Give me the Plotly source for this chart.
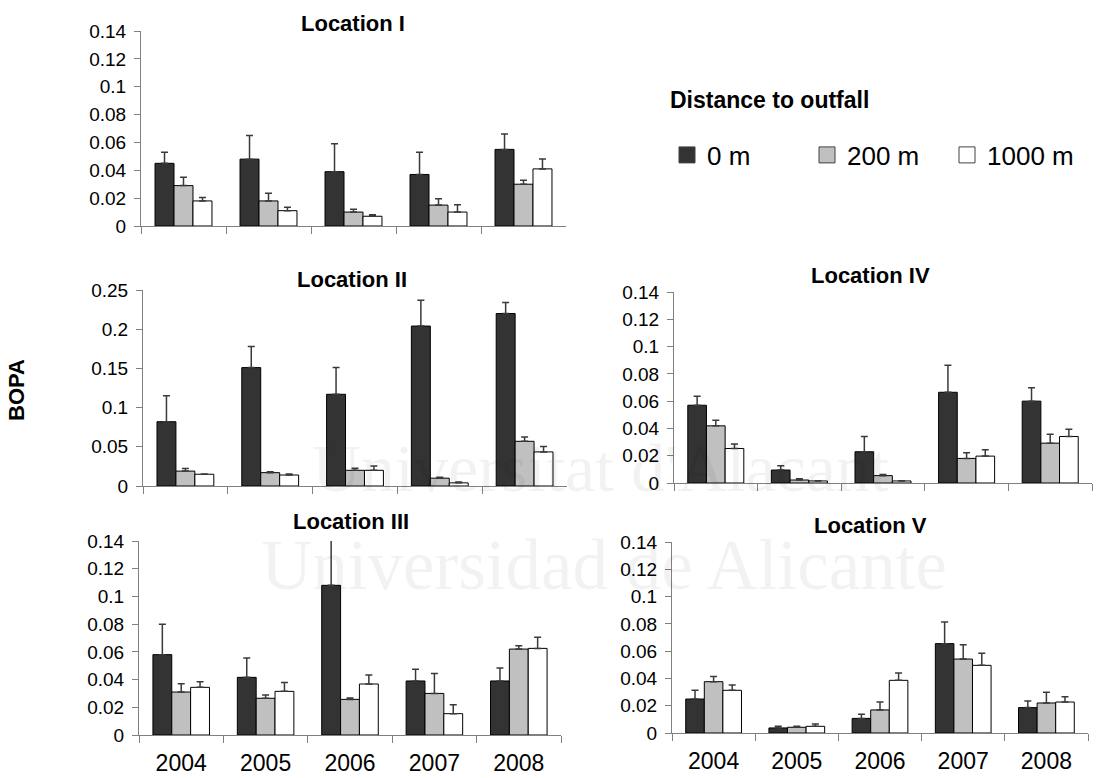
import plotly.graph_objects as go

W, H = 1105, 778

years = ["2004", "2005", "2006", "2007", "2008"]
distances = ["0 m", "200 m", "1000 m"]
bar_colors = ["#333333", "#c0c0c0", "#ffffff"]

# Location I
loc1_0m = [0.045, 0.048, 0.039, 0.037, 0.055]
loc1_0m_err = [0.008, 0.017, 0.020, 0.016, 0.011]
loc1_200m = [0.029, 0.018, 0.010, 0.015, 0.030]
loc1_200m_err = [0.006, 0.0055, 0.002, 0.0046, 0.0028]
loc1_1000m = [0.018, 0.011, 0.007, 0.010, 0.041]
loc1_1000m_err = [0.0025, 0.0024, 0.001, 0.0053, 0.0071]

# Location II
loc2_0m = [0.082, 0.151, 0.117, 0.204, 0.220]
loc2_0m_err = [0.033, 0.027, 0.034, 0.033, 0.014]
loc2_200m = [0.019, 0.017, 0.020, 0.010, 0.057]
loc2_200m_err = [0.0032, 0.0012, 0.0026, 0.0013, 0.0055]
loc2_1000m = [0.015, 0.014, 0.020, 0.004, 0.0435]
loc2_1000m_err = [0.0004, 0.0013, 0.0056, 0.0012, 0.0068]

# Location III
loc3_0m = [0.058, 0.0416, 0.108, 0.039, 0.039]
loc3_0m_err = [0.022, 0.014, 0.036, 0.0084, 0.0094]
loc3_200m = [0.031, 0.0265, 0.0257, 0.030, 0.062]
loc3_200m_err = [0.006, 0.0024, 0.001, 0.0144, 0.0024]
loc3_1000m = [0.0344, 0.0315, 0.0368, 0.0154, 0.0625]
loc3_1000m_err = [0.0041, 0.0063, 0.0065, 0.0065, 0.008]

# Location IV
loc4_0m = [0.057, 0.0095, 0.0229, 0.0665, 0.060]
loc4_0m_err = [0.0065, 0.0032, 0.0112, 0.0199, 0.0098]
loc4_200m = [0.0419, 0.0022, 0.0054, 0.018, 0.0292]
loc4_200m_err = [0.0041, 0.001, 0.0009, 0.0042, 0.0066]
loc4_1000m = [0.0253, 0.0015, 0.0015, 0.0197, 0.0341]
loc4_1000m_err = [0.0032, 0.0002, 0.0002, 0.0046, 0.0053]

# Location V
loc5_0m = [0.0249, 0.0037, 0.0107, 0.0655, 0.0186]
loc5_0m_err = [0.0064, 0.0012, 0.003, 0.0159, 0.0049]
loc5_200m = [0.0376, 0.0042, 0.0169, 0.0542, 0.022]
loc5_200m_err = [0.0039, 0.0007, 0.0058, 0.0105, 0.0078]
loc5_1000m = [0.0313, 0.0049, 0.0386, 0.0496, 0.0227]
loc5_1000m_err = [0.0039, 0.0017, 0.0054, 0.0088, 0.0039]

titles = ["Location I", "Location II", "Location III", "Location IV", "Location V"]
y_max = [0.14, 0.25, 0.14, 0.14, 0.14]
y_dtick = [0.02, 0.05, 0.02, 0.02, 0.02]

panels = [
    [(loc1_0m, loc1_0m_err), (loc1_200m, loc1_200m_err), (loc1_1000m, loc1_1000m_err)],
    [(loc2_0m, loc2_0m_err), (loc2_200m, loc2_200m_err), (loc2_1000m, loc2_1000m_err)],
    [(loc3_0m, loc3_0m_err), (loc3_200m, loc3_200m_err), (loc3_1000m, loc3_1000m_err)],
    [(loc4_0m, loc4_0m_err), (loc4_200m, loc4_200m_err), (loc4_1000m, loc4_1000m_err)],
    [(loc5_0m, loc5_0m_err), (loc5_200m, loc5_200m_err), (loc5_1000m, loc5_1000m_err)],
]

# panel boxes in pixels: (left, right, top, bottom)
boxes = [
    (141, 566, 31, 226),
    (143, 567, 290, 486),
    (139, 561, 541, 735),
    (674, 1092, 292, 483),
    (672, 1088, 542, 733),
]
title_pos = [(353, 23), (352, 279), (351, 521), (870, 275), (870, 525)]
show_years = [False, False, True, False, True]

def px(x):
    return x / W

def py(y):
    return 1 - y / H

FONT = "Liberation Sans, Arial, sans-serif"
AXC = "#808080"

fig = go.Figure()
for p, series in enumerate(panels):
    n = p + 1
    for s, (vals, errs) in enumerate(series):
        fig.add_trace(go.Bar(
            x=years, y=vals, name=distances[s],
            marker=dict(color=bar_colors[s], line=dict(color="#000000", width=1)),
            error_y=dict(type="data", array=errs, arrayminus=[0] * len(errs),
                         symmetric=False, color="#3a3a3a", thickness=1.5, width=3.5),
            xaxis=f"x{n}", yaxis=f"y{n}",
            legendgroup=distances[s], showlegend=False,
        ))

# legend swatches (square markers, no data points)
for s in range(3):
    fig.add_trace(go.Scatter(
        x=[None], y=[None], mode="markers", name=distances[s],
        marker=dict(symbol="square", size=17, color=bar_colors[s],
                    line=dict(color="#404040", width=1)),
        xaxis="x1", yaxis="y1", legendgroup=distances[s], showlegend=True,
        hoverinfo="skip",
    ))

layout = dict(
    width=W, height=H,
    margin=dict(l=0, r=0, t=0, b=0, autoexpand=False),
    paper_bgcolor="white", plot_bgcolor="white",
    barmode="group", bargap=0.33, bargroupgap=0,
    font=dict(family=FONT, color="#000000"),
    showlegend=True,
    legend=dict(
        orientation="h", x=px(667), y=py(155), xanchor="left", yanchor="middle",
        font=dict(size=26, family=FONT), itemsizing="trace",
        entrywidth=95, entrywidthmode="pixels",
        bgcolor="rgba(0,0,0,0)", itemclick=False, itemdoubleclick=False,
    ),
)

annotations = []
for p in range(5):
    n = p + 1
    l, r, t, b = boxes[p]
    layout[f"xaxis{n}"] = dict(
        domain=[px(l), px(r)], anchor=f"y{n}",
        type="category", categoryorder="array", categoryarray=years,
        showline=True, linecolor=AXC, linewidth=1,
        ticks="outside", tickson="boundaries", ticklen=7, tickcolor=AXC,
        showticklabels=show_years[p], tickfont=dict(size=23, family=FONT),
        tickangle=0, ticklabelstandoff=7, showgrid=False, zeroline=False,
        fixedrange=True, automargin=False,
    )
    layout[f"yaxis{n}"] = dict(
        domain=[py(b), py(t)], anchor=f"x{n}",
        range=[0, y_max[p]], tick0=0, dtick=y_dtick[p],
        showline=True, linecolor=AXC, linewidth=1,
        ticks="outside", ticklen=6, tickcolor=AXC,
        tickfont=dict(size=19, family=FONT), ticklabelstandoff=4,
        showgrid=False, zeroline=False, fixedrange=True, automargin=False,
    )
    tx, ty = title_pos[p]
    annotations.append(dict(
        text=f"<b>{titles[p]}</b>", x=px(tx), y=py(ty), xref="paper", yref="paper",
        showarrow=False, font=dict(size=22, family=FONT), xanchor="center", yanchor="middle",
    ))

annotations.append(dict(
    text="<b>Distance to outfall</b>", x=px(668), y=py(100), xref="paper", yref="paper",
    showarrow=False, font=dict(size=23, family=FONT), xanchor="left", yanchor="middle",
))

annotations.append(dict(
    text="<b>BOPA</b>", x=px(17), y=py(390), xref="paper", yref="paper",
    showarrow=False, textangle=-90, font=dict(size=22, family=FONT),
    xanchor="center", yanchor="middle",
))

# faint watermark of the source document
annotations.append(dict(
    text="Universitat d'Alacant", x=px(600), y=py(468), xref="paper", yref="paper",
    showarrow=False, font=dict(size=68, family="Liberation Serif, serif", color="rgba(0,0,0,0.05)"),
    xanchor="center", yanchor="middle",
))
annotations.append(dict(
    text="Universidad de Alicante", x=px(604), y=py(565), xref="paper", yref="paper",
    showarrow=False, font=dict(size=71, family="Liberation Serif, serif", color="rgba(0,0,0,0.05)"),
    xanchor="center", yanchor="middle",
))

layout["annotations"] = annotations
fig.update_layout(**layout)

fig.write_html(
    "out.html",
    config={"displayModeBar": False},
    post_script="document.body.style.margin='0';document.body.style.overflow='hidden';",
)
